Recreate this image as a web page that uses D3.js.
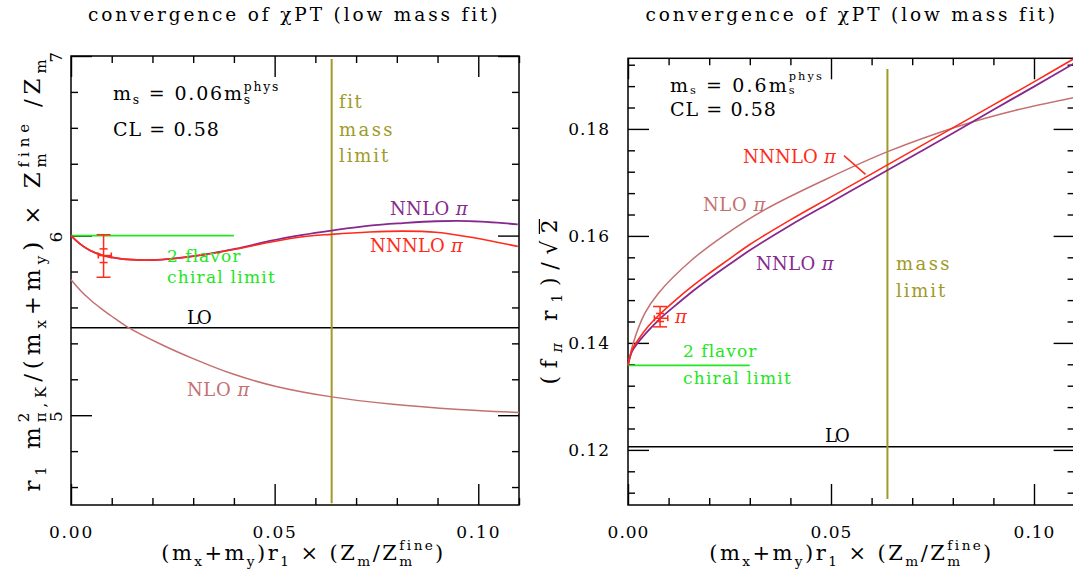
<!DOCTYPE html>
<html><head><meta charset="utf-8">
<script src="https://cdn.jsdelivr.net/npm/d3@7"></script>
<style>
html,body{margin:0;padding:0;background:#fff;}
svg{display:block;}
text{font-family:"DejaVu Serif",serif;}
</style></head><body>
<svg id="chart" width="1073" height="582"></svg>
<script>
// ---------------- data ----------------
const xMajorTicks = [0, 0.05, 0.10];
const leftYMajorTicks = [5, 6, 7];
const rightYMajorTicks = [0.12, 0.14, 0.16, 0.18];

// left panel: r1 m^2/(mx+my)
const leftX      = [0, 0.0022, 0.0047, 0.0079, 0.0120, 0.0161, 0.0200, 0.0243, 0.0324, 0.0406, 0.0488, 0.0569, 0.0639, 0.0733, 0.0815, 0.0896, 0.0978, 0.1097];
const leftNNLO   = [6.000, 5.954, 5.917, 5.889, 5.872, 5.865, 5.864, 5.870, 5.893, 5.927, 5.970, 6.004, 6.028, 6.056, 6.070, 6.080, 6.081, 6.063];
const leftNNNLO  = [6.000, 5.954, 5.917, 5.889, 5.872, 5.865, 5.864, 5.870, 5.893, 5.925, 5.963, 5.994, 6.007, 6.020, 6.025, 6.019, 5.992, 5.940];
const leftNLOX   = [0, 0.0025, 0.005, 0.0075, 0.010, 0.0136, 0.0218, 0.030, 0.0394, 0.0504, 0.064, 0.079, 0.0953, 0.11];
const leftNLO    = [5.754, 5.690, 5.637, 5.592, 5.551, 5.495, 5.398, 5.315, 5.232, 5.160, 5.102, 5.061, 5.032, 5.015];
const leftLO = 5.487;
const leftChiralX = [0, 0.04];
const leftChiral = 6.0;
const leftFitLimitX = 0.064;
const leftFitLimitY = [4.51, 6.983];
const leftPoint = {x: 0.008, y: 5.889, yLo: 5.768, yHi: 6.005, yLoIn: 5.850, yHiIn: 5.926, xLo: 0.0067, xHi: 0.0099};

// right panel: (f_pi r1)/sqrt2
const rightX     = [0, 0.001, 0.0025, 0.005, 0.008, 0.012, 0.016, 0.02, 0.025, 0.03, 0.04, 0.05, 0.06, 0.07, 0.08, 0.09, 0.10, 0.11];
const rightNNNLO = [0.1358, 0.1387, 0.1406, 0.1431, 0.1455, 0.1482, 0.1507, 0.1530, 0.1557, 0.1584, 0.1630, 0.1673, 0.1716, 0.1759, 0.1802, 0.1845, 0.1888, 0.1932];
const rightNNLO  = [0.1358, 0.1384, 0.1401, 0.1423, 0.1446, 0.1472, 0.1497, 0.1520, 0.1547, 0.1573, 0.1620, 0.1663, 0.1706, 0.1749, 0.1792, 0.1836, 0.1879, 0.1923];
const rightNLOX  = [0, 0.0013, 0.0042, 0.0075, 0.0157, 0.0239, 0.0337, 0.0485, 0.0641, 0.0818, 0.0955, 0.11];
const rightNLO   = [0.1358, 0.1400, 0.1456, 0.1493, 0.1555, 0.1602, 0.1649, 0.1705, 0.1758, 0.1806, 0.1835, 0.1859];
const rightLO = 0.1206;
const rightChiralX = [0, 0.03];
const rightChiral = 0.1358;
const rightMassLimitX = 0.0639;
const rightMassLimitY = [0.1108, 0.1912];
const rightPoint = {x: 0.0079, y: 0.1446, yLo: 0.1430, yHi: 0.1468, yLoIn: 0.1440, yHiIn: 0.1455, xLo: 0.0065, xHi: 0.0098};
const rightPointer = [[0.0532, 0.1750], [0.0585, 0.1715]];

// ---------------- styles ----------------
const C = {
  nnlo: '#86288e', nnnlo: '#ff2a1a', nlo: '#c47070', olive: '#a09a28', green: '#22e622', black: '#000'
};

const svg = d3.select('#chart');

function rich(parent, segs, o) {
  const g = parent.append('g').attr('transform', `translate(${o.x},${o.y}) rotate(${o.rotate || 0})`);
  const inner = g.append('g');
  const subF = o.subDy == null ? 0.28 : o.subDy;
  const supF = o.supDy == null ? 0.5 : o.supDy;
  const scr = o.scr == null ? 0.65 : o.scr;
  const nodes = segs.map(s => {
    const kind = s.k || 'n';
    const fs = kind === 'n' ? o.size : o.size * scr;
    const dy = kind === 'sub' ? o.size * subF : kind === 'sup' ? -o.size * supF : 0;
    const t = inner.append('text')
      .attr('font-size', fs).attr('y', dy)
      .attr('fill', o.fill || '#000')
      .attr('font-style', s.it ? 'italic' : null)
      .text(s.t.replace(/ /g, '\u00a0'));
    return {s, t, fs, dy, w: t.node().getComputedTextLength(), n: [...s.t].length};
  });
  function layout(ls) {
    let cx = 0, prevStart = 0;
    nodes.forEach(d => {
      const w = d.w + ls * d.n;
      const px = d.s.stack ? prevStart : cx;
      if (!d.s.stack) prevStart = px;
      d.x = px; d.wl = w;
      cx = Math.max(cx, px + w);
    });
    return cx;
  }
  let ls = o.ls || 0;
  let W = layout(ls);
  if (o.width) {
    const N = d3.sum(nodes, d => d.n);
    ls = (o.width - layout(0)) / N;
    W = layout(ls);
  }
  nodes.forEach(d => {
    d.t.attr('x', d.x).attr('letter-spacing', ls);
    if (d.s.over) {
      inner.append('line').attr('x1', d.x - 1).attr('x2', d.x + d.wl - ls)
        .attr('y1', -o.size * 0.8).attr('y2', -o.size * 0.8)
        .attr('stroke', o.fill || '#000').attr('stroke-width', 1.2);
    }
  });
  if (o.anchor === 'middle') inner.attr('transform', `translate(${-W / 2},0)`);
  return g;
}

function drawPanel(P) {
  const x = d3.scaleLinear().domain(P.xDomain).range([P.left, P.right]);
  const y = d3.scaleLinear().domain(P.yDomain).range([P.bottom, P.top]);
  const g = svg.append('g');

  const styleAxis = sel => {
    sel.select('.domain').remove();
    sel.selectAll('line').attr('stroke', '#000').attr('stroke-width', 1.4);
    sel.selectAll('text').attr('font-family', 'DejaVu Serif').attr('font-size', 17)
      .attr('fill', '#000').attr('letter-spacing', P.tickLs);
  };
  const notMajor = (arr, maj) => arr.filter(v => !maj.some(m => Math.abs(m - v) < 1e-9));
  const xMinor = notMajor(d3.range(0, P.xDomain[1] + 1e-9, 0.01).map(v => +v.toFixed(4)), P.xMajor);
  const yMinor = notMajor(d3.range(P.yMinorStart, P.yDomain[1] + 1e-9, P.yMinorStep).map(v => +v.toFixed(5)), P.yMajor);

  const ax = g.append('g');
  ax.append('g').attr('transform', `translate(0,${P.bottom})`).call(d3.axisBottom(x).tickValues(xMinor).tickSize(-7).tickFormat('')).call(styleAxis);
  ax.append('g').attr('transform', `translate(0,${P.top})`).call(d3.axisTop(x).tickValues(xMinor).tickSize(-7).tickFormat('')).call(styleAxis);
  ax.append('g').attr('transform', `translate(${P.left},0)`).call(d3.axisLeft(y).tickValues(yMinor).tickSize(-7).tickFormat('')).call(styleAxis);
  ax.append('g').attr('transform', `translate(${P.right},0)`).call(d3.axisRight(y).tickValues(yMinor).tickSize(-7).tickFormat('')).call(styleAxis);

  ax.append('g').attr('transform', `translate(0,${P.bottom})`)
    .call(d3.axisBottom(x).tickValues(P.xMajor).tickSize(-21).tickPadding(21).tickFormat(d3.format('.2f'))).call(styleAxis);
  ax.append('g').attr('transform', `translate(0,${P.top})`)
    .call(d3.axisTop(x).tickValues(P.xMajor).tickSize(-21).tickFormat('')).call(styleAxis);
  const yl = ax.append('g').attr('transform', `translate(${P.left},0)`)
    .call(d3.axisLeft(y).tickValues(P.yMajor).tickSize(-21).tickPadding(P.yPad).tickFormat(d3.format(P.yFmt))).call(styleAxis);
  if (P.rotY) {
    yl.selectAll('.tick text').attr('x', 0).attr('dy', null).attr('text-anchor', 'middle')
      .attr('transform', `translate(${-P.yPad},0) rotate(-90)`);
  }
  ax.append('g').attr('transform', `translate(${P.right},0)`)
    .call(d3.axisRight(y).tickValues(P.yMajor).tickSize(-21).tickFormat('')).call(styleAxis);

  g.append('rect').attr('x', P.left).attr('y', P.top)
    .attr('width', P.right - P.left).attr('height', P.bottom - P.top)
    .attr('fill', 'none').attr('stroke', '#000').attr('stroke-width', 1.5);

  return {x, y, g};
}

function curve(g, x, y, xs, ys, color, w) {
  const line = d3.line().x(d => x(d[0])).y(d => y(d[1])).curve(d3.curveCatmullRom.alpha(0.5));
  g.append('path').datum(xs.map((v, i) => [v, ys[i]]))
    .attr('d', line).attr('fill', 'none').attr('stroke', color).attr('stroke-width', w || 1.6);
}
function seg(g, x1, y1, x2, y2, color, w) {
  g.append('line').attr('x1', x1).attr('y1', y1).attr('x2', x2).attr('y2', y2)
    .attr('stroke', color).attr('stroke-width', w || 1.5);
}
function errPoint(g, x, y, p, color) {
  const cx = x(p.x), cy = y(p.y);
  seg(g, cx, y(p.yLo), cx, y(p.yHi), color);
  seg(g, cx - 7, y(p.yLo), cx + 7, y(p.yLo), color);
  seg(g, cx - 7, y(p.yHi), cx + 7, y(p.yHi), color);
  seg(g, cx - 4, y(p.yLoIn), cx + 4, y(p.yLoIn), color);
  seg(g, cx - 4, y(p.yHiIn), cx + 4, y(p.yHiIn), color);
  seg(g, x(p.xLo), cy, x(p.xHi), cy, color);
  seg(g, x(p.xLo), cy - 3, x(p.xLo), cy + 3, color);
  seg(g, x(p.xHi), cy - 3, x(p.xHi), cy + 3, color);
}

const xLabelSegs = [{t: '(m'}, {t: 'x', k: 'sub'}, {t: '+m'}, {t: 'y', k: 'sub'}, {t: ')r'}, {t: '1', k: 'sub'}, {t: ' × (Z'}, {t: 'm', k: 'sub'}, {t: '/Z'}, {t: 'fine', k: 'sup'}, {t: 'm', k: 'sub', stack: true}, {t: ')'}];
const titleText = 'convergence of χPT (low mass fit)';

// ---------------- left panel ----------------
const L = drawPanel({
  left: 71, right: 519, top: 56, bottom: 505,
  xDomain: [0, 0.11], yDomain: [4.5, 7],
  xMajor: xMajorTicks, yMajor: leftYMajorTicks,
  yMinorStart: 4.6, yMinorStep: 0.2, yFmt: 'd', yPad: 9, rotY: true, tickLs: 1.8
});
{
  const {x, y, g} = L;
  seg(g, x(0), y(leftLO), x(0.11), y(leftLO), C.black, 1.5);
  seg(g, x(leftFitLimitX), y(leftFitLimitY[0]), x(leftFitLimitX), y(leftFitLimitY[1]), C.olive, 2);
  seg(g, x(leftChiralX[0]), y(leftChiral), x(leftChiralX[1]), y(leftChiral), C.green, 1.6);
  curve(g, x, y, leftNLOX, leftNLO, C.nlo, 1.5);
  curve(g, x, y, leftX, leftNNLO, C.nnlo, 1.8);
  curve(g, x, y, leftX, leftNNNLO, C.nnnlo, 1.6);
  errPoint(g, x, y, leftPoint, C.nnnlo);

  rich(svg, [{t: 'm'}, {t: 's', k: 'sub'}, {t: ' = 0.06m'}, {t: 's', k: 'sub'}, {t: 'phys', k: 'sup', stack: true}], {x: 113, y: 100, size: 19, width: 169, subDy: 0.22});
  rich(svg, [{t: 'CL = 0.58'}], {x: 113, y: 136, size: 19, width: 107});
  rich(svg, [{t: 'fit'}], {x: 339, y: 108, size: 18, width: 24, fill: C.olive});
  rich(svg, [{t: 'mass'}], {x: 339, y: 136, size: 18, width: 56, fill: C.olive});
  rich(svg, [{t: 'limit'}], {x: 339, y: 162, size: 18, width: 51, fill: C.olive});
  rich(svg, [{t: 'NNLO '}, {t: 'π', it: true}], {x: 390, y: 215, size: 18, width: 78, fill: C.nnlo});
  rich(svg, [{t: 'NNNLO '}, {t: 'π', it: true}], {x: 370, y: 252, size: 18, width: 93, fill: C.nnnlo});
  rich(svg, [{t: '2 flavor'}], {x: 167, y: 262, size: 17, width: 74, fill: C.green});
  rich(svg, [{t: 'chiral limit'}], {x: 167, y: 283, size: 17, width: 109, fill: C.green});
  rich(svg, [{t: 'LO'}], {x: 187, y: 324, size: 18, width: 23});
  rich(svg, [{t: 'NLO '}, {t: 'π', it: true}], {x: 187, y: 396, size: 18, width: 63, fill: C.nlo});

  rich(svg, [{t: titleText}], {x: 294, y: 21, size: 18.5, width: 412, anchor: 'middle'});
  rich(svg, xLabelSegs, {x: 303.5, y: 560, size: 21, width: 287, anchor: 'middle'});
  rich(svg, [{t: 'r'}, {t: '1', k: 'sub'}, {t: ' m'}, {t: '2', k: 'sup'}, {t: 'π,K', k: 'sub', stack: true}, {t: '/(m'}, {t: 'x', k: 'sub'}, {t: '+m'}, {t: 'y', k: 'sub'}, {t: ') × Z'}, {t: 'fine', k: 'sup'}, {t: 'm', k: 'sub', stack: true}, {t: ' /Z'}, {t: 'm', k: 'sub'}],
    {x: 40, y: 273, size: 23, width: 447, anchor: 'middle', rotate: -90, subDy: 0.25});
}

// ---------------- right panel ----------------
const R = drawPanel({
  left: 628, right: 1074.6, top: 58.3, bottom: 505,
  xDomain: [0, 0.11], yDomain: [0.1097, 0.1932],
  xMajor: xMajorTicks, yMajor: rightYMajorTicks,
  yMinorStart: 0.112, yMinorStep: 0.004, yFmt: '.2f', yPad: 18, rotY: false, tickLs: 1.0
});
{
  const {x, y, g} = R;
  seg(g, x(0), y(rightLO), x(0.11), y(rightLO), C.black, 1.5);
  seg(g, x(rightMassLimitX), y(rightMassLimitY[0]), x(rightMassLimitX), y(rightMassLimitY[1]), C.olive, 2);
  seg(g, x(rightChiralX[0]), y(rightChiral), x(rightChiralX[1]), y(rightChiral), C.green, 1.6);
  curve(g, x, y, rightNLOX, rightNLO, C.nlo, 1.5);
  curve(g, x, y, rightX, rightNNLO, C.nnlo, 1.8);
  curve(g, x, y, rightX, rightNNNLO, C.nnnlo, 1.6);
  seg(g, x(rightPointer[0][0]), y(rightPointer[0][1]), x(rightPointer[1][0]), y(rightPointer[1][1]), C.nnnlo, 1.5);
  errPoint(g, x, y, rightPoint, C.nnnlo);

  rich(svg, [{t: 'm'}, {t: 's', k: 'sub'}, {t: ' = 0.6m'}, {t: 's', k: 'sub'}, {t: 'phys', k: 'sup', stack: true}], {x: 670, y: 92, size: 19, width: 156, subDy: 0.12, supDy: 0.62, scr: 0.6});
  rich(svg, [{t: 'CL = 0.58'}], {x: 670, y: 115.5, size: 19, width: 107});
  rich(svg, [{t: 'NNNLO '}, {t: 'π', it: true}], {x: 743, y: 162.5, size: 18, width: 93, fill: C.nnnlo});
  rich(svg, [{t: 'NLO '}, {t: 'π', it: true}], {x: 703, y: 211, size: 18, width: 63, fill: C.nlo});
  rich(svg, [{t: 'NNLO '}, {t: 'π', it: true}], {x: 756, y: 270, size: 18, width: 78, fill: C.nnlo});
  rich(svg, [{t: 'mass'}], {x: 896, y: 270, size: 18, width: 56, fill: C.olive});
  rich(svg, [{t: 'limit'}], {x: 896, y: 296.5, size: 18, width: 51, fill: C.olive});
  rich(svg, [{t: '2 flavor'}], {x: 683, y: 356.5, size: 17, width: 74, fill: C.green});
  rich(svg, [{t: 'chiral limit'}], {x: 683, y: 384, size: 17, width: 109, fill: C.green});
  rich(svg, [{t: 'LO'}], {x: 825, y: 441.5, size: 18, width: 23});
  rich(svg, [{t: 'π', it: true}], {x: 675, y: 323, size: 18, fill: C.nnnlo});

  rich(svg, [{t: titleText}], {x: 851.5, y: 21, size: 18.5, width: 412, anchor: 'middle'});
  rich(svg, xLabelSegs, {x: 851.5, y: 560, size: 21, width: 287, anchor: 'middle'});
  rich(svg, [{t: '(f'}, {t: 'π', k: 'sub', it: true}, {t: ' r'}, {t: '1', k: 'sub'}, {t: ')/√'}, {t: '2', over: true}],
    {x: 557, y: 298, size: 22, width: 173, anchor: 'middle', rotate: -90, subDy: 0.22});
}
</script>
</body></html>
